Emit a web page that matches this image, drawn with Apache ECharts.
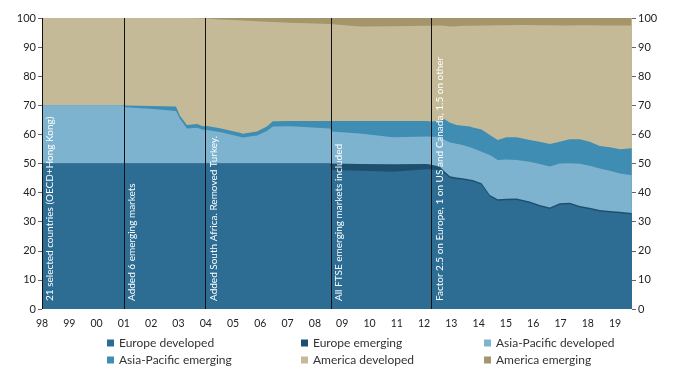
<!DOCTYPE html>
<html>
<head>
<meta charset="utf-8">
<script src="https://cdn.jsdelivr.net/npm/echarts@6/dist/echarts.min.js"></script>
<style>
html,body{margin:0;padding:0;background:#fff;}
#chart{width:678px;height:381px;}
</style>
</head>
<body>
<div id="chart"></div>
<script>
// Decimal years of sample points
const dates = [1998.0, 2000.97, 2001.05, 2001.96, 2002.91, 2003.05, 2003.31, 2003.68, 2003.90, 2004.04, 2004.52, 2005.25, 2005.36, 2005.88, 2006.24, 2006.46, 2007.08, 2007.45, 2008.55, 2008.62, 2009.65, 2010.86, 2012.10, 2012.27, 2012.58, 2012.76, 2012.95, 2013.19, 2013.42, 2013.68, 2013.79, 2014.11, 2014.41, 2014.70, 2015.02, 2015.39, 2015.87, 2016.24, 2016.61, 2016.97, 2017.34, 2017.71, 2018.07, 2018.44, 2018.81, 2019.18, 2019.61];

const europeDeveloped = [50,50,50,50,50,50,50,50,50,50,50,50,50,50,50,50,50,50,50,47.8,47.5,47.2,48.0,47.9,47.7,46.5,45.0,44.6,44.4,44.0,43.8,42.7,38.7,37.2,37.4,37.5,36.4,35.2,34.4,35.8,36.0,34.9,34.3,33.5,33.2,32.9,32.5];
const europeEmerging = [0,0,0,0,0,0,0,0,0,0,0,0,0,0,0,0,0,0,0,2.0,2.3,2.5,1.8,1.7,1.2,0.7,0.6,0.6,0.5,0.5,0.5,0.5,0.5,0.5,0.5,0.5,0.5,0.5,0.5,0.5,0.5,0.5,0.5,0.5,0.5,0.5,0.5];
const asiaPacificDeveloped = [20,20,19.3,18.8,18.0,15.5,12.0,12.3,11.6,11.5,10.8,9.2,8.9,9.6,11.2,12.7,12.8,12.6,12.0,11.2,10.5,9.3,9.5,9.6,10.3,10.9,11.6,11.6,11.5,11.1,10.9,10.8,13.7,13.5,13.5,13.2,13.7,14.1,14.1,13.7,13.6,14.5,14.4,14.3,13.8,13.2,13.0];
const asiaPacificEmerging = [0,0,0.6,1.0,1.6,1.0,1.2,1.3,1.2,1.4,1.3,1.4,1.3,1.4,1.5,1.8,1.8,2.0,2.6,3.6,4.3,5.6,5.3,5.2,5.5,7.1,6.8,6.4,6.6,7.1,7.2,7.7,6.9,6.9,7.6,7.8,7.5,7.7,7.7,7.5,8.2,8.4,8.3,7.7,8.1,8.3,9.2];
const americaDeveloped = [30,30,30.1,30.2,30.4,33.5,36.8,36.3,37.0,36.9,37.4,38.6,38.9,37.9,36.0,34.1,33.8,33.7,33.3,32.8,32.5,32.6,32.7,32.9,32.7,32.1,33.1,34.0,34.3,34.6,34.9,35.7,37.6,39.4,38.5,38.6,39.5,40.0,40.8,39.9,39.1,39.2,40.0,41.4,41.8,42.5,42.2];
const americaEmerging = [0,0,0,0,0,0,0,0.1,0.2,0.2,0.5,0.8,0.9,1.1,1.3,1.4,1.6,1.7,2.1,2.6,2.9,2.8,2.7,2.7,2.6,2.7,2.9,2.8,2.7,2.7,2.7,2.6,2.6,2.5,2.5,2.4,2.4,2.5,2.5,2.6,2.6,2.5,2.5,2.6,2.6,2.6,2.6];

const seriesNames = ['Europe developed','Europe emerging','Asia-Pacific developed','Asia-Pacific emerging','America developed','America emerging'];
const seriesColors = ['#2D6D93','#1F4F6F','#7DB3CF','#3F8DB2','#C4BA98','#A4966A'];
const seriesValues = [europeDeveloped, europeEmerging, asiaPacificDeveloped, asiaPacificEmerging, americaDeveloped, americaEmerging];

// Event lines and annotation texts
const eventYears = [1998, 2001, 2004, 2008.6, 2012.27];
const eventTexts = [
  '21 selected countries (OECD+Hong Kong)',
  'Added 6 emerging markets',
  'Added South Africa. Removed Turkey.',
  'All FTSE emerging markets included',
  'Factor 2.5 on Europe, 1 on US and Canada, 1.5 on other'
];

const yTicks = [0,10,20,30,40,50,60,70,80,90,100];
const FONT = 'Lato';

const chart = echarts.init(document.getElementById('chart'), null, {renderer:'canvas'});

// Cumulative (stacked) tops computed from the series arrays
const cumulative = seriesValues.map((vals, k) =>
  dates.map((d, i) => {
    let s = 0;
    for (let j = 0; j <= k; j++) s += seriesValues[j][i];
    return [d, Math.round(s * 100) / 100];
  })
);

// Draw from the top layer down so lower layers paint over higher ones
const series = [];
for (let k = seriesNames.length - 1; k >= 0; k--) {
  const s = {
    name: seriesNames[k],
    type: 'line',
    symbol: 'none',
    showSymbol: false,
    smooth: false,
    lineStyle: {width: 0},
    itemStyle: {color: seriesColors[k]},
    areaStyle: {color: seriesColors[k], opacity: 1, origin: 'start'},
    data: cumulative[k]
  };
  if (k === 0) {
    s.markLine = {
      silent: true,
      z: 10,
      symbol: ['none','none'],
      lineStyle: {color: '#111', width: 1, type: 'solid'},
      label: {
        show: true,
        position: 'insideStartBottom',
        color: '#fff',
        fontFamily: FONT,
        fontSize: 10,
        distance: [8, 3]
      },
      data: eventYears.map((y, i) => ({xAxis: y, label: {formatter: eventTexts[i]}}))
    };
  }
  series.push(s);
}

const legendRich = {
  c0: {width: 177, fontFamily: FONT, fontSize: 12, color: '#333', backgroundColor: 'rgba(255,255,255,0.01)'},
  c1: {width: 166, fontFamily: FONT, fontSize: 12, color: '#333', backgroundColor: 'rgba(255,255,255,0.01)'},
  c2: {width: 150, fontFamily: FONT, fontSize: 12, color: '#333', backgroundColor: 'rgba(255,255,255,0.01)'}
};

chart.setOption({
  animation: false,
  backgroundColor: '#fff',
  grid: {left: 42, right: 46, top: 18, bottom: 72},
  legend: {
    data: seriesNames,
    left: 102,
    top: 332,
    width: 560,
    itemWidth: 7,
    itemHeight: 7,
    itemGap: 5,
    icon: 'rect',
    selectedMode: false,
    formatter: name => '{c' + (seriesNames.indexOf(name) % 3) + '|' + name + '}',
    textStyle: {fontFamily: FONT, fontSize: 12, color: '#333', rich: legendRich}
  },
  xAxis: {
    type: 'value',
    min: 1998,
    max: 2019.62,
    interval: 1,
    axisLine: {show: false},
    axisTick: {show: false},
    splitLine: {show: false},
    axisLabel: {
      showMaxLabel: false,
      fontFamily: FONT, fontSize: 10.5, color: '#222', margin: 9,
      formatter: v => (Math.round(v) % 100 < 10 ? '0' : '') + (Math.round(v) % 100)
    }
  },
  yAxis: [0, 1].map(side => ({
    type: 'value',
    position: side === 0 ? 'left' : 'right',
    min: 0, max: 100, interval: 10,
    axisLine: {show: false},
    axisTick: {show: true, length: 4, lineStyle: {color: '#666'}},
    splitLine: {show: false},
    axisLabel: {fontFamily: FONT, fontSize: 11, color: '#222', margin: 6,
      formatter: v => yTicks.indexOf(v) >= 0 ? String(v) : ''}
  })),
  series: series
});
</script>
</body>
</html>
